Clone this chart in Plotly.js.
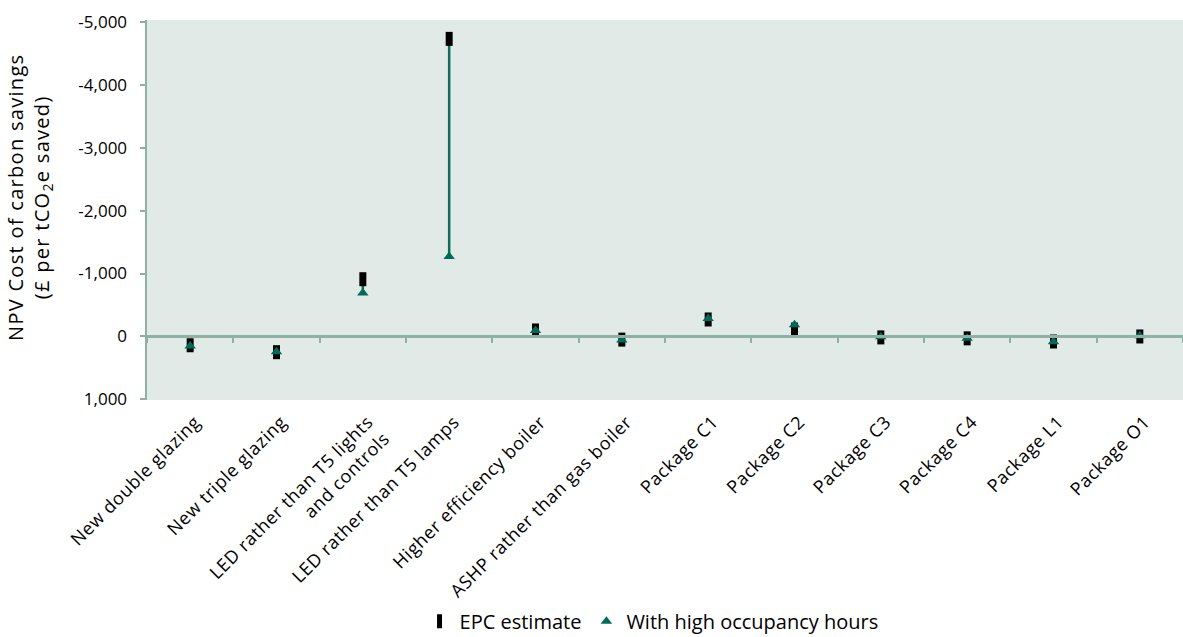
<!DOCTYPE html>
<html>
<head>
<meta charset="utf-8">
<script src="https://cdn.plot.ly/plotly-3.0.1.min.js"></script>
<style>
html,body{margin:0;padding:0;background:#fff;}
#chart{width:1183px;height:637px;}
#chart .annotation-text{letter-spacing:1.3px;}
#chart .xtick text{letter-spacing:0.6px;}
</style>
</head>
<body>
<div id="chart"></div>
<script>
const categories = [
  "New double glazing",
  "New triple glazing",
  "LED rather than T5 lights<br>and controls",
  "LED rather than T5 lamps",
  "Higher efficiency boiler",
  "ASHP rather than gas boiler",
  "Package C1",
  "Package C2",
  "Package C3",
  "Package C4",
  "Package L1",
  "Package O1"
];
const epcEstimate = [140, 250, -910, -4730, -95, 50, -270, -110, 15, 30, 80, 0];
const highOccupancy = [150, 245, -690, -1270, -95, 55, -285, -185, 5, 30, 85, -10];
const yTickVals = [-5000, -4000, -3000, -2000, -1000, 0, 1000];
const yTickText = ["-5,000", "-4,000", "-3,000", "-2,000", "-1,000", "0", "1,000"];
const yTitle = "NPV Cost of carbon savings<br>(£ per tCO<sub>2</sub>e saved)";

const yRange = [1010, -5030];
const axisCol = "#8eb1a3";
const green = "#006b56";
const font = "Open Sans, Noto Sans, sans-serif";

const plus = epcEstimate.map((v, i) => Math.max(highOccupancy[i] - v, 0));
const minus = epcEstimate.map((v, i) => Math.max(v - highOccupancy[i], 0));

const traces = [
  {
    type: "scatter", mode: "markers", name: "EPC estimate",
    x: categories, y: epcEstimate,
    marker: {symbol: "line-ns-open", size: 10, color: "#000", line: {width: 7, color: "#000"}},
    error_y: {type: "data", symmetric: false, array: plus, arrayminus: minus,
              color: "#0f6b5a", thickness: 2.5, width: 0},
    hoverinfo: "x+y"
  },
  {
    type: "scatter", mode: "markers", name: "With high occupancy hours",
    x: categories, y: highOccupancy,
    marker: {symbol: "triangle-up", size: 10, color: green, line: {width: 0}},
    hoverinfo: "x+y"
  },
  {
    type: "scatter", mode: "markers", x: categories, y: epcEstimate,
    xaxis: "x2", showlegend: false, hoverinfo: "skip",
    marker: {opacity: 0, size: 1}
  }
];

const layout = {
  width: 1183, height: 637,
  margin: {l: 147, r: 0, t: 20, b: 237, autoexpand: false},
  paper_bgcolor: "#ffffff",
  plot_bgcolor: "#e1eae6",
  font: {family: font, size: 17, color: "#000"},
  showlegend: true,
  legend: {orientation: "h", x: 0.487, xanchor: "center", y: -0.582, yanchor: "middle",
           font: {family: font, size: 20, color: "#000"}, itemwidth: 30},
  xaxis: {
    type: "category", range: [-0.5, 11.5], automargin: false,
    showline: false, showgrid: false, zeroline: false, ticks: "",
    tickangle: -45, tickfont: {family: font, size: 18, color: "#000"},
    ticklabelstandoff: 7, ticklabelshift: 5
  },
  xaxis2: {
    type: "category", overlaying: "x", anchor: "free", side: "bottom",
    position: yRange[0] / (yRange[0] - yRange[1]), automargin: false,
    range: [-0.5, 11.5], showticklabels: false, showgrid: false, zeroline: false,
    showline: true, linecolor: axisCol, linewidth: 3,
    ticks: "outside", tickson: "boundaries", ticklen: 5, tickwidth: 2, tickcolor: axisCol
  },
  yaxis: {
    range: yRange, showgrid: false, zeroline: false, automargin: false,
    showline: true, linecolor: axisCol, linewidth: 2.5,
    ticks: "outside", ticklen: 5, tickwidth: 2, tickcolor: axisCol,
    tickvals: yTickVals, ticktext: yTickText,
    tickfont: {family: font, size: 17, color: "#000"},
    ticklabelstandoff: 9
  },
  annotations: [{
    text: yTitle, textangle: -90, showarrow: false,
    xref: "paper", yref: "paper", x: (29 - 147) / 1036, y: 0.534,
    xanchor: "center", yanchor: "middle",
    font: {family: font, size: 20, color: "#000"}
  }]
};

Plotly.newPlot("chart", traces, layout, {displayModeBar: false, staticPlot: true});
</script>
</body>
</html>
